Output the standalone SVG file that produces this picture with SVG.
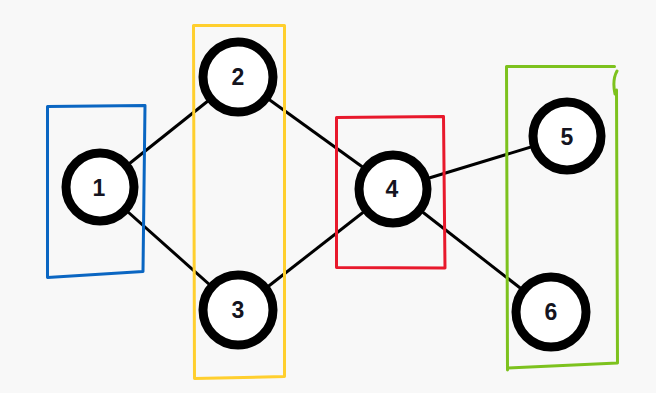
<svg xmlns="http://www.w3.org/2000/svg" width="656" height="393" viewBox="0 0 656 393">
<style>
.edge{stroke:#000;stroke-width:3;fill:none}
.node circle{fill:#fff;stroke:#000;stroke-width:9}
.node text{font-family:"Liberation Sans",Arial,sans-serif;font-weight:bold;font-size:23px;fill:#141420;text-anchor:middle;dominant-baseline:central}
.box{fill:none;stroke-width:3;stroke-linejoin:round;stroke-linecap:round}
</style>
<rect width="656" height="393" fill="#f8f8f8"/>
<g id="connectors">
<line class="edge" x1="100" y1="187" x2="238" y2="77"/>
<line class="edge" x1="100" y1="187" x2="238" y2="310"/>
<line class="edge" x1="238" y1="77" x2="393" y2="189"/>
<line class="edge" x1="238" y1="310" x2="393" y2="189"/>
<line class="edge" x1="393" y1="189" x2="567" y2="136"/>
<line class="edge" x1="393" y1="189" x2="551" y2="312"/>
</g>
<g id="node1" class="node"><circle cx="100" cy="187" r="34"/><text x="99" y="188">1</text></g>
<g id="node2" class="node"><circle cx="238" cy="77" r="35"/><text x="238" y="77">2</text></g>
<g id="node3" class="node"><circle cx="238" cy="310" r="35"/><text x="238" y="310">3</text></g>
<g id="node4" class="node"><circle cx="393" cy="189" r="34"/><text x="392" y="189">4</text></g>
<g id="node5" class="node"><circle cx="567" cy="136" r="34"/><text x="567" y="137">5</text></g>
<g id="node6" class="node"><circle cx="551" cy="312" r="35"/><text x="551" y="312">6</text></g>
<g id="groups">
<path class="box" stroke="#0a66c2" d="M47.5 106.5 L145 105.5 L143 271.5 L47.5 277.5 Z"/>
<path class="box" stroke="#ffcf2e" d="M193.5 25.5 L284.5 25.5 L284.5 376.5 L194.5 378.5 L193.5 25.5"/>
<path class="box" stroke="#e8192c" d="M336.5 117.5 L443.5 116.5 L445 268 L336.5 267.5 Z"/>
<path class="box" stroke="#7dc21e" d="M506.5 66.5 L614.5 66.5 M617 71 Q612 80 615 94 M616.5 90 L617.5 363 L507.5 368 M506.5 66.5 L507.5 370"/>
</g>
</svg>
